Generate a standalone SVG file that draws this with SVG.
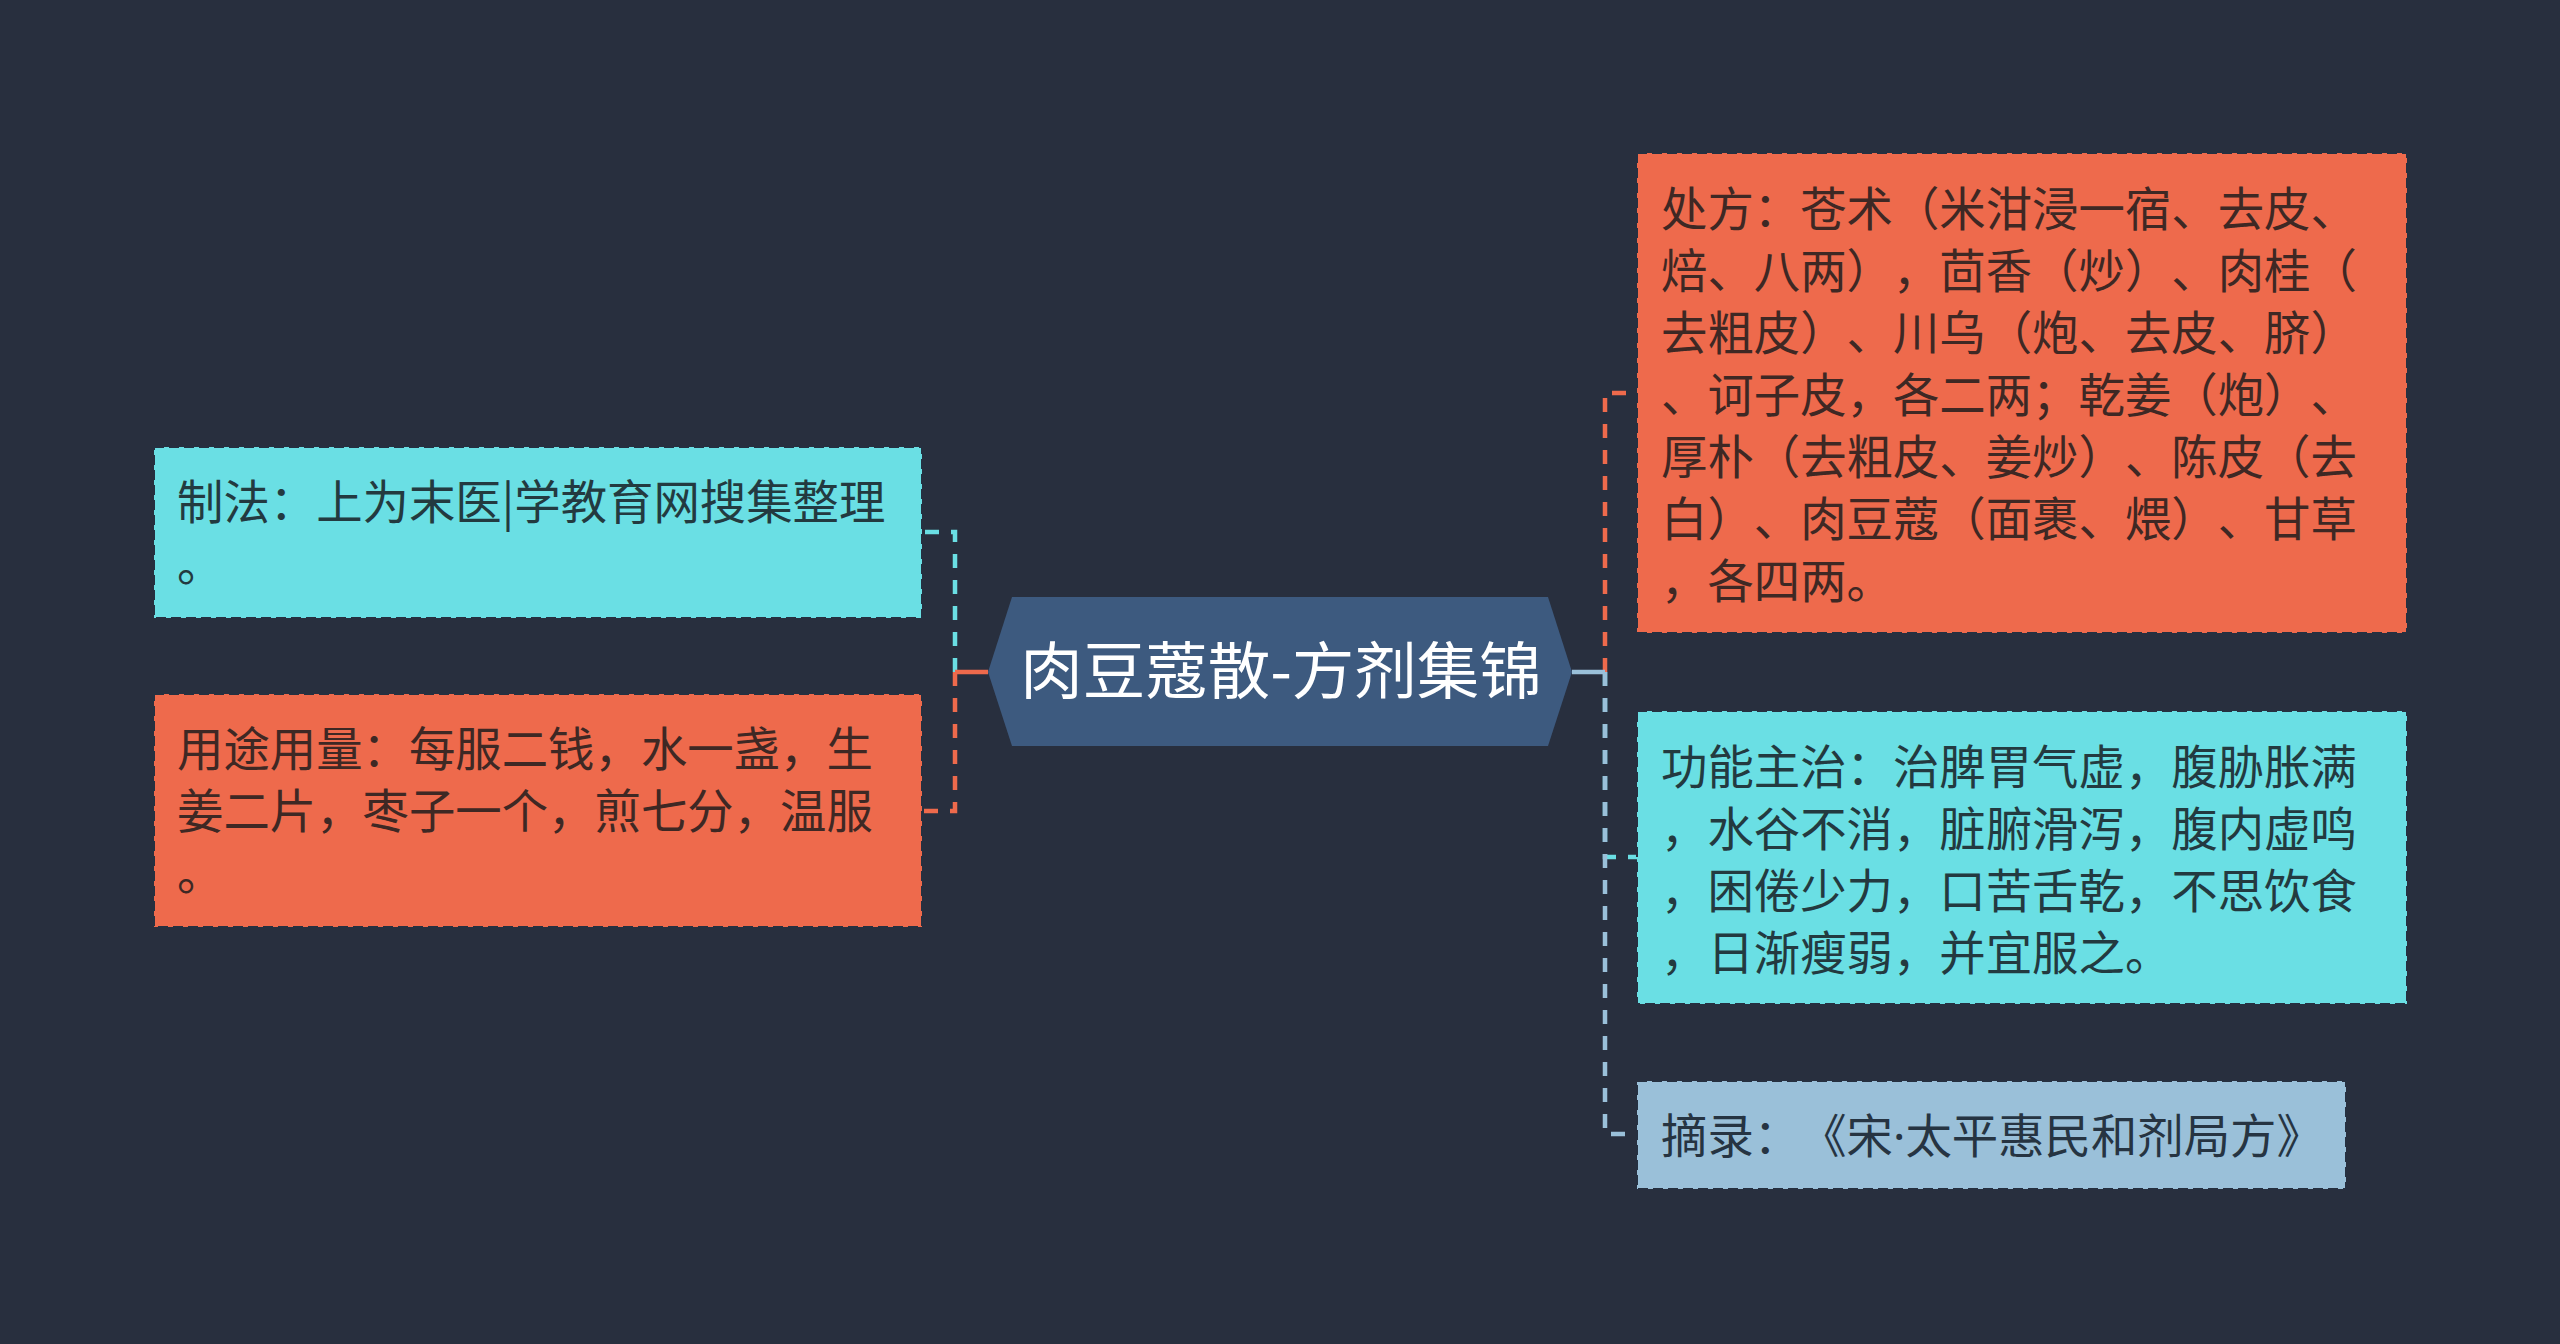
<svg xmlns="http://www.w3.org/2000/svg" width="2560" height="1344" viewBox="0 0 2560 1344">
<style>
text{text-spacing-trim:space-all;font-kerning:none}
.box{stroke:#263040;stroke-width:2;stroke-dasharray:10 5}
.cy{fill:#6adfe4}
.or{fill:#ee6a4c}
.lb{fill:#9ac0d9}
.t{font-family:"Noto Sans CJK SC","Noto Sans",sans-serif;font-size:46.4px}
.tc{fill:#233a40}
.to{fill:#3e2824}
.tb{fill:#263442}
.dot{font-family:"Noto Sans",sans-serif}
.ln{fill:none;stroke-width:4.5;stroke-dasharray:14 12}
.sl{fill:none;stroke-width:4.5}
</style>
<rect width="2560" height="1344" fill="#282f3e"/>
<g id="connectors">
<path class="ln" d="M955 672V532H922" stroke="#6adfe4"/>
<path class="ln" d="M955 672V811H922" stroke="#ee6a4c"/>
<path class="sl" d="M988 672H955" stroke="#ee6a4c"/>
<path class="ln" d="M1605 672V393H1637" stroke="#ee6a4c"/>
<path class="ln" d="M1605 672V857H1637" stroke="#6adfe4"/>
<path class="ln" d="M1605 672V1134H1637" stroke="#9ac0d9"/>
<path class="sl" d="M1572 672H1605" stroke="#9ac0d9"/>
</g>
<g id="center">
<polygon points="988,672 1012,597 1548,597 1572,672 1548,746 1012,746" fill="#3d5a7f"/>
<text x="1281" y="694" text-anchor="middle" font-family="Noto Sans CJK SC,Noto Sans,sans-serif" font-size="62.5" fill="#ffffff">肉豆蔻散-方剂集锦</text>
</g>
<g id="node-zhifa">
<rect class="box cy" x="154" y="447" width="768" height="171"/>
<text class="t tc" x="177"><tspan x="177" y="519">制法：上为末医|学教育网搜集整理</tspan><tspan x="177" y="581">。</tspan></text>
</g>
<g id="node-yongtu">
<rect class="box or" x="154" y="694" width="768" height="233"/>
<text class="t to" x="177"><tspan x="177" y="766">用途用量：每服二钱，水一盏，生</tspan><tspan x="177" y="828">姜二片，枣子一个，煎七分，温服</tspan><tspan x="177" y="890">。</tspan></text>
</g>
<g id="node-chufang">
<rect class="box or" x="1637" y="153" width="770" height="480"/>
<text class="t to"><tspan x="1661" y="226">处方：苍术（米泔浸一宿、去皮、</tspan><tspan x="1661" y="288">焙、八两），茴香（炒）、肉桂（</tspan><tspan x="1661" y="350">去粗皮）、川乌（炮、去皮、脐）</tspan><tspan x="1661" y="412">、诃子皮，各二两；乾姜（炮）、</tspan><tspan x="1661" y="474">厚朴（去粗皮、姜炒）、陈皮（去</tspan><tspan x="1661" y="536">白）、肉豆蔻（面裹、煨）、甘草</tspan><tspan x="1661" y="598">，各四两。</tspan></text>
</g>
<g id="node-gongneng">
<rect class="box cy" x="1637" y="711" width="770" height="293"/>
<text class="t tc"><tspan x="1661" y="784">功能主治：治脾胃气虚，腹胁胀满</tspan><tspan x="1661" y="846">，水谷不消，脏腑滑泻，腹内虚鸣</tspan><tspan x="1661" y="908">，困倦少力，口苦舌乾，不思饮食</tspan><tspan x="1661" y="970">，日渐瘦弱，并宜服之。</tspan></text>
</g>
<g id="node-zhailu">
<rect class="box lb" x="1637" y="1081" width="709" height="108"/>
<text class="t tb" x="1661" y="1153">摘录：《宋<tspan class="dot">·</tspan>太平惠民和剂局方》</text>
</g>
</svg>
